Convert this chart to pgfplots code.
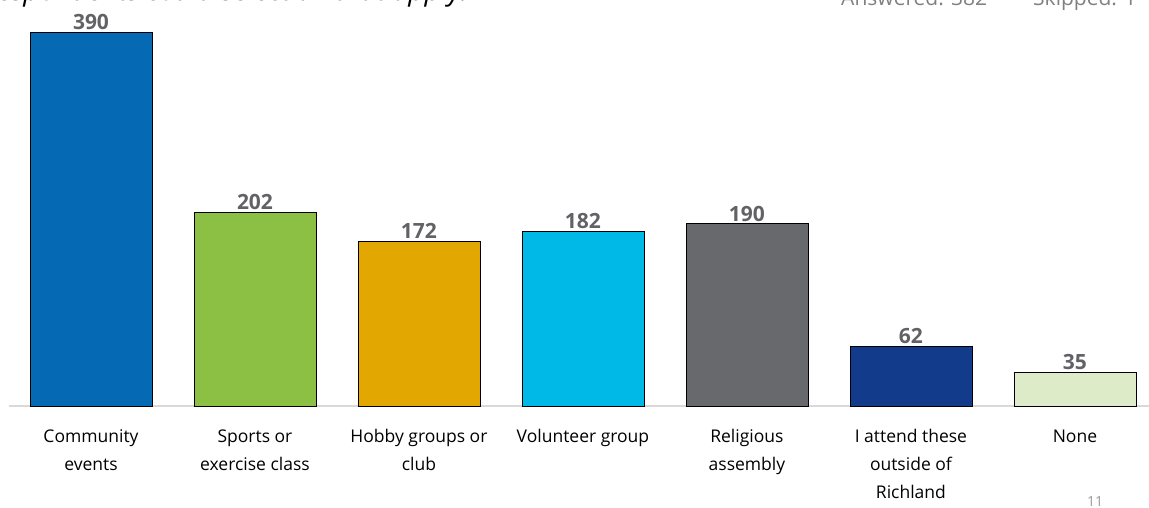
\documentclass[border=0pt]{standalone}
\usepackage{pgfplots}
\pgfplotsset{compat=1.18}
\usepackage{fontspec}
\setmainfont{Open Sans}
\definecolor{c1}{HTML}{0569B4}
\definecolor{c2}{HTML}{8BC045}
\definecolor{c3}{HTML}{E2A700}
\definecolor{c4}{HTML}{00B9E7}
\definecolor{c5}{HTML}{68696D}
\definecolor{c6}{HTML}{133B8B}
\definecolor{c7}{HTML}{DDEBC8}
\definecolor{lbl}{HTML}{626266}
\begin{document}
\begin{tikzpicture}[x=1pt,y=1pt]
\useasboundingbox (0,0) rectangle (1149,508);
\node[anchor=base east,font=\fontsize{28}{32}\selectfont\itshape,inner sep=0pt] at (468,507) {Respondents could select all that apply.};
\node[anchor=base west,font=\fontsize{21}{24}\selectfont,text=gray,inner sep=0pt] at (841,502) {Answered: 382\hspace{46pt}Skipped: 1};
\node[anchor=base,font=\fontsize{14}{16}\selectfont,text=gray!80,inner sep=0pt] at (1095,1.5) {11};
\begin{axis}[
  at={(9pt,102pt)}, anchor=south west,
  scale only axis, width=1148pt, height=406pt,
  xmin=-0.5, xmax=6.5, ymin=0, ymax=423.4,
  axis x line=bottom, axis y line=none,
  x axis line style={draw=black!15, line width=1.3pt, -},
  ytick=\empty,
  xtick={0,...,6},
  major tick length=0pt,
  /pgf/number format/assume math mode=true,
  xticklabels={{Community\\events},{Sports or\\exercise class},{Hobby groups or\\club},{Volunteer group},{Religious\\assembly},{I attend these\\outside of\\Richland}, {None}},
  xticklabel style={align=center, font=\fontsize{17.5}{28}\selectfont, yshift=-20pt, text=black},
  ybar, bar width=122pt,
  every axis plot/.append style={bar shift=0pt, draw=black, line width=0.8pt},
  nodes near coords,
  every node near coord/.append style={font=\fontsize{21}{24}\selectfont\bfseries, text=lbl, inner sep=2pt},
  clip=false,
]
\addplot[fill=c1] coordinates {(0,390)};
\addplot[fill=c2] coordinates {(1,202)};
\addplot[fill=c3] coordinates {(2,172)};
\addplot[fill=c4] coordinates {(3,182)};
\addplot[fill=c5] coordinates {(4,190)};
\addplot[fill=c6] coordinates {(5,62)};
\addplot[fill=c7] coordinates {(6,35)};
\end{axis}
\end{tikzpicture}
\end{document}
